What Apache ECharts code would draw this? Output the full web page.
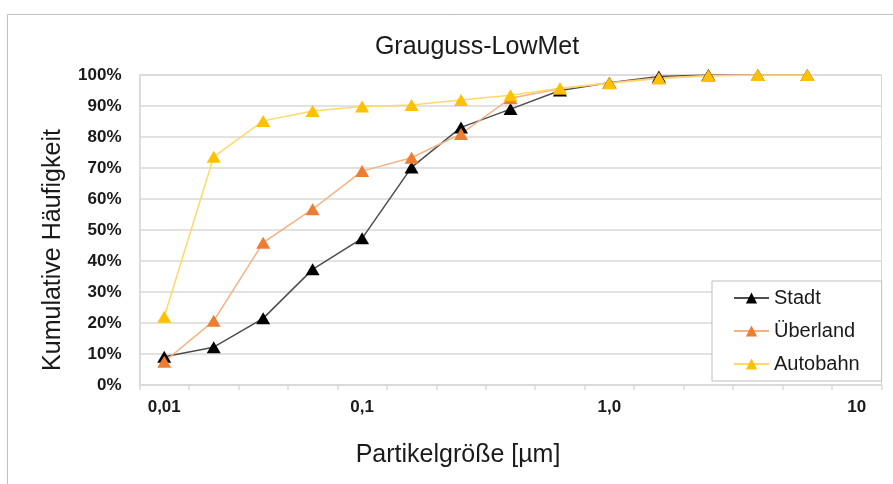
<!DOCTYPE html>
<html>
<head>
<meta charset="utf-8">
<script src="https://cdn.jsdelivr.net/npm/echarts@6/dist/echarts.min.js"></script>
<style>html,body{margin:0;padding:0;background:#fff}#c{width:893px;height:484px}</style>
</head>
<body>
<div id="c"></div>
<script>
// categories (15 size classes, last one empty) and tick labels
const categories = ['c0','c1','c2','c3','c4','c5','c6','c7','c8','c9','c10','c11','c12','c13','c14'];
const tickLabels = {0: '0,01', 4: '0,1', 9: '1,0', 14: '10'};
const seriesNames = ['Stadt', 'Überland', 'Autobahn'];
const stadt    = [9.1, 12.2, 21.5, 37.3, 47.3, 70.2, 83.1, 89.0, 95.0, 97.5, 99.5, 100, 100, 100];
const ueberland = [7.5, 20.7, 45.9, 56.7, 69.0, 73.3, 81.0, 92.5, 95.6, 97.5, 99.0, 99.8, 100, 100];
const autobahn = [22.0, 73.6, 85.2, 88.4, 89.8, 90.3, 91.9, 93.5, 95.7, 97.3, 98.9, 99.7, 100, 100];
const yTicks = [0, 10, 20, 30, 40, 50, 60, 70, 80, 90, 100];
const xAxisName = 'Partikelgröße [µm]';
const yAxisName = 'Kumulative Häufigkeit';

const FONT = '"Liberation Sans", Arial, sans-serif';
const chart = echarts.init(document.getElementById('c'), null, {renderer: 'canvas'});

function mk(name, data, marker, line) {
  return {
    name, type: 'line', data,
    symbol: 'triangle', symbolSize: [14, 12],
    itemStyle: {color: marker},
    lineStyle: {color: line, width: 1.5},
    emphasis: {disabled: true},
    animation: false
  };
}

chart.setOption({
  animation: false,
  graphic: [{
    type: 'rect', left: 5, top: 12, shape: {width: 900, height: 500},
    style: {fill: 'none', stroke: '#bfbfbf', lineWidth: 1}, silent: true
  }, {
    type: 'text', x: 53, y: 250, rotation: Math.PI / 2, silent: true,
    style: {text: yAxisName, font: '25px ' + FONT, fill: '#1a1a1a', align: 'center', verticalAlign: 'middle'}
  }, {
    type: 'text', x: 458, y: 455, silent: true,
    style: {text: xAxisName, font: '25px ' + FONT, fill: '#1a1a1a', align: 'center', verticalAlign: 'middle'}
  }],
  title: {
    text: 'Grauguss-LowMet', left: 472, top: 30, textAlign: 'center',
    textStyle: {fontFamily: FONT, fontSize: 25, fontWeight: 'normal', color: '#1a1a1a'}
  },
  grid: {left: 139.5, right: 11.5, top: 75, bottom: 99, show: true, borderColor: '#d9d9d9', borderWidth: 1, containLabel: false},
  legend: {
    orient: 'vertical', left: 712, top: 281,
    data: seriesNames,
    itemWidth: 35, itemHeight: 14, itemGap: 13,
    padding: [7, 22, 7, 21],
    borderColor: '#bfbfbf', borderWidth: 1, backgroundColor: '#fff',
    textStyle: {fontFamily: FONT, fontSize: 20, color: '#1a1a1a'}
  },
  xAxis: {
    type: 'category', data: categories, boundaryGap: true,
    axisLine: {lineStyle: {color: '#d9d9d9', width: 1.5}},
    axisTick: {show: true, length: 5, lineStyle: {color: '#d9d9d9', width: 1.5}, interval: 0},
    axisLabel: {
      interval: 0, margin: 14,
      formatter: (v, i) => tickLabels[i] || '',
      fontFamily: FONT, fontSize: 17, fontWeight: 'bold', color: '#1a1a1a'
    },
    splitLine: {show: false}
  },
  yAxis: {
    type: 'value', min: 0, max: 100, interval: 10,
    axisLine: {show: true, lineStyle: {color: '#d9d9d9', width: 1.5}},
    axisTick: {show: false},
    axisLabel: {
      margin: 18, formatter: v => yTicks.includes(v) ? v + '%' : '',
      fontFamily: FONT, fontSize: 17, fontWeight: 'bold', color: '#1a1a1a'
    },
    splitLine: {lineStyle: {color: '#d9d9d9', width: 1.5}}
  },
  series: [
    mk(seriesNames[0], stadt, '#000000', '#4d4d4d'),
    mk(seriesNames[1], ueberland, '#ED7D31', '#F4B183'),
    mk(seriesNames[2], autobahn, '#FFC000', '#FFD966')
  ]
});
</script>
</body>
</html>
